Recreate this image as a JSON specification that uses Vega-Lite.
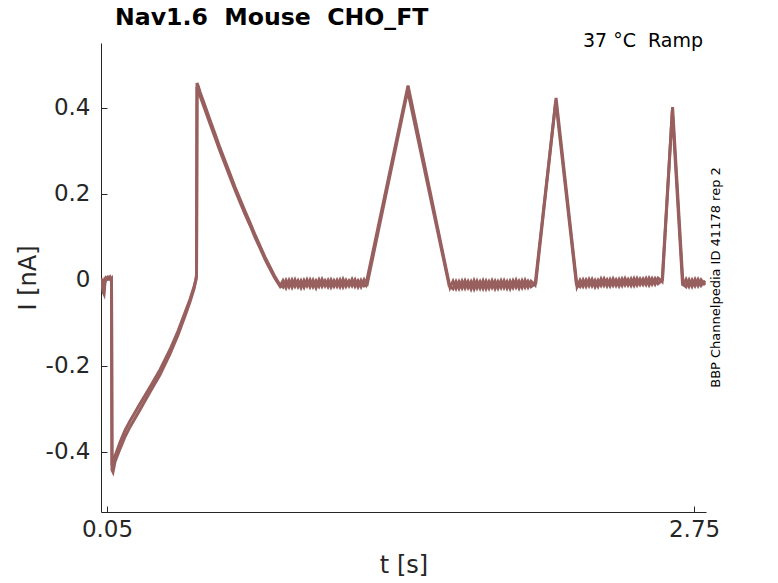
{
  "$schema": "https://vega.github.io/schema/vega-lite/v6.json",
  "width": 605,
  "height": 469,
  "autosize": {"type": "none"},
  "padding": {"left": 101, "top": 43, "right": 72, "bottom": 71},
  "background": "white",
  "title": {
    "text": "Nav1.6\u00a0 Mouse\u00a0 CHO_FT",
    "anchor": "start",
    "frame": "group",
    "baseline": "alphabetic",
    "dx": 14,
    "dy": 33,
    "offset": 16,
    "font": "DejaVu Sans",
    "fontSize": 23.6,
    "fontWeight": "bold",
    "color": "black"
  },
  "config": {
    "view": {"stroke": null},
    "axis": {
      "grid": false,
      "labelFont": "DejaVu Sans",
      "titleFont": "DejaVu Sans",
      "titleFontWeight": "normal",
      "labelColor": "#262626",
      "titleColor": "#262626",
      "domainColor": "#262626",
      "tickColor": "#262626"
    }
  },
  "datasets": {
    "trace": [
      {"t": 0.0224, "I": 0.002, "rep": "a"},
      {"t": 0.0270, "I": -0.002, "rep": "a"},
      {"t": 0.0316, "I": -0.028, "rep": "a"},
      {"t": 0.0362, "I": -0.033, "rep": "a"},
      {"t": 0.0408, "I": -0.005, "rep": "a"},
      {"t": 0.0454, "I": 0.005, "rep": "a"},
      {"t": 0.0546, "I": 0.002, "rep": "a"},
      {"t": 0.0638, "I": 0.007, "rep": "a"},
      {"t": 0.0707, "I": 0.000, "rep": "a"},
      {"t": 0.0730, "I": -0.442, "rep": "a"},
      {"t": 0.0776, "I": -0.447, "rep": "a"},
      {"t": 0.0868, "I": -0.423, "rep": "a"},
      {"t": 0.1098, "I": -0.393, "rep": "a"},
      {"t": 0.1328, "I": -0.365, "rep": "a"},
      {"t": 0.1558, "I": -0.342, "rep": "a"},
      {"t": 0.2018, "I": -0.302, "rep": "a"},
      {"t": 0.2478, "I": -0.261, "rep": "a"},
      {"t": 0.2938, "I": -0.221, "rep": "a"},
      {"t": 0.3398, "I": -0.172, "rep": "a"},
      {"t": 0.3766, "I": -0.128, "rep": "a"},
      {"t": 0.4088, "I": -0.084, "rep": "a"},
      {"t": 0.4318, "I": -0.051, "rep": "a"},
      {"t": 0.4502, "I": -0.021, "rep": "a"},
      {"t": 0.4594, "I": 0.000, "rep": "a"},
      {"t": 0.4617, "I": 0.009, "rep": "a"},
      {"t": 0.4640, "I": 0.458, "rep": "a"},
      {"t": 0.4700, "I": 0.450, "rep": "a"},
      {"t": 0.4778, "I": 0.437, "rep": "a"},
      {"t": 0.5008, "I": 0.405, "rep": "a"},
      {"t": 0.5238, "I": 0.372, "rep": "a"},
      {"t": 0.5468, "I": 0.340, "rep": "a"},
      {"t": 0.5698, "I": 0.307, "rep": "a"},
      {"t": 0.5928, "I": 0.277, "rep": "a"},
      {"t": 0.6158, "I": 0.247, "rep": "a"},
      {"t": 0.6388, "I": 0.216, "rep": "a"},
      {"t": 0.6618, "I": 0.188, "rep": "a"},
      {"t": 0.6848, "I": 0.160, "rep": "a"},
      {"t": 0.7078, "I": 0.133, "rep": "a"},
      {"t": 0.7308, "I": 0.105, "rep": "a"},
      {"t": 0.7538, "I": 0.079, "rep": "a"},
      {"t": 0.7768, "I": 0.053, "rep": "a"},
      {"t": 0.7998, "I": 0.030, "rep": "a"},
      {"t": 0.8228, "I": 0.007, "rep": "a"},
      {"t": 0.8458, "I": -0.012, "rep": "a"},
      {"t": 0.8596, "I": -0.017, "rep": "a"},
      {"t": 0.8734, "I": -0.001, "rep": "a"},
      {"t": 0.8872, "I": -0.016, "rep": "a"},
      {"t": 0.9010, "I": 0.000, "rep": "a"},
      {"t": 0.9148, "I": -0.015, "rep": "a"},
      {"t": 0.9286, "I": -0.002, "rep": "a"},
      {"t": 0.9424, "I": -0.018, "rep": "a"},
      {"t": 0.9562, "I": -0.001, "rep": "a"},
      {"t": 0.9700, "I": -0.014, "rep": "a"},
      {"t": 0.9838, "I": 0.000, "rep": "a"},
      {"t": 0.9976, "I": -0.016, "rep": "a"},
      {"t": 1.0114, "I": -0.002, "rep": "a"},
      {"t": 1.0252, "I": -0.015, "rep": "a"},
      {"t": 1.0390, "I": 0.001, "rep": "a"},
      {"t": 1.0528, "I": -0.014, "rep": "a"},
      {"t": 1.0666, "I": -0.001, "rep": "a"},
      {"t": 1.0804, "I": -0.017, "rep": "a"},
      {"t": 1.0942, "I": -0.002, "rep": "a"},
      {"t": 1.1080, "I": -0.015, "rep": "a"},
      {"t": 1.1218, "I": 0.000, "rep": "a"},
      {"t": 1.1356, "I": -0.016, "rep": "a"},
      {"t": 1.1494, "I": -0.001, "rep": "a"},
      {"t": 1.1632, "I": -0.014, "rep": "a"},
      {"t": 1.1770, "I": 0.001, "rep": "a"},
      {"t": 1.1908, "I": -0.015, "rep": "a"},
      {"t": 1.2046, "I": -0.002, "rep": "a"},
      {"t": 1.2184, "I": -0.016, "rep": "a"},
      {"t": 1.2322, "I": 0.000, "rep": "a"},
      {"t": 1.2414, "I": -0.010, "rep": "a"},
      {"t": 1.4346, "I": 0.452, "rep": "a"},
      {"t": 1.6278, "I": -0.018, "rep": "a"},
      {"t": 1.6416, "I": -0.003, "rep": "a"},
      {"t": 1.6554, "I": -0.020, "rep": "a"},
      {"t": 1.6692, "I": -0.004, "rep": "a"},
      {"t": 1.6830, "I": -0.019, "rep": "a"},
      {"t": 1.6968, "I": -0.002, "rep": "a"},
      {"t": 1.7106, "I": -0.018, "rep": "a"},
      {"t": 1.7244, "I": -0.004, "rep": "a"},
      {"t": 1.7382, "I": -0.021, "rep": "a"},
      {"t": 1.7520, "I": -0.003, "rep": "a"},
      {"t": 1.7658, "I": -0.019, "rep": "a"},
      {"t": 1.7796, "I": -0.002, "rep": "a"},
      {"t": 1.7934, "I": -0.020, "rep": "a"},
      {"t": 1.8072, "I": -0.004, "rep": "a"},
      {"t": 1.8210, "I": -0.018, "rep": "a"},
      {"t": 1.8348, "I": -0.003, "rep": "a"},
      {"t": 1.8486, "I": -0.019, "rep": "a"},
      {"t": 1.8624, "I": -0.002, "rep": "a"},
      {"t": 1.8762, "I": -0.018, "rep": "a"},
      {"t": 1.8900, "I": -0.004, "rep": "a"},
      {"t": 1.9038, "I": -0.020, "rep": "a"},
      {"t": 1.9176, "I": -0.002, "rep": "a"},
      {"t": 1.9314, "I": -0.017, "rep": "a"},
      {"t": 1.9452, "I": -0.003, "rep": "a"},
      {"t": 1.9590, "I": -0.018, "rep": "a"},
      {"t": 1.9728, "I": -0.001, "rep": "a"},
      {"t": 1.9866, "I": -0.017, "rep": "a"},
      {"t": 2.0004, "I": -0.003, "rep": "a"},
      {"t": 2.0188, "I": -0.012, "rep": "a"},
      {"t": 2.1154, "I": 0.423, "rep": "a"},
      {"t": 2.2120, "I": -0.016, "rep": "a"},
      {"t": 2.2258, "I": -0.001, "rep": "a"},
      {"t": 2.2396, "I": -0.015, "rep": "a"},
      {"t": 2.2534, "I": 0.000, "rep": "a"},
      {"t": 2.2672, "I": -0.014, "rep": "a"},
      {"t": 2.2810, "I": 0.001, "rep": "a"},
      {"t": 2.2948, "I": -0.016, "rep": "a"},
      {"t": 2.3086, "I": -0.001, "rep": "a"},
      {"t": 2.3224, "I": -0.013, "rep": "a"},
      {"t": 2.3362, "I": 0.002, "rep": "a"},
      {"t": 2.3500, "I": -0.014, "rep": "a"},
      {"t": 2.3638, "I": 0.001, "rep": "a"},
      {"t": 2.3776, "I": -0.013, "rep": "a"},
      {"t": 2.3914, "I": 0.000, "rep": "a"},
      {"t": 2.4052, "I": -0.014, "rep": "a"},
      {"t": 2.4190, "I": 0.002, "rep": "a"},
      {"t": 2.4328, "I": -0.012, "rep": "a"},
      {"t": 2.4466, "I": 0.001, "rep": "a"},
      {"t": 2.4604, "I": -0.013, "rep": "a"},
      {"t": 2.4742, "I": 0.003, "rep": "a"},
      {"t": 2.4880, "I": -0.012, "rep": "a"},
      {"t": 2.5018, "I": 0.002, "rep": "a"},
      {"t": 2.5156, "I": -0.011, "rep": "a"},
      {"t": 2.5294, "I": 0.003, "rep": "a"},
      {"t": 2.5432, "I": -0.012, "rep": "a"},
      {"t": 2.5570, "I": 0.003, "rep": "a"},
      {"t": 2.5708, "I": -0.010, "rep": "a"},
      {"t": 2.5846, "I": 0.004, "rep": "a"},
      {"t": 2.6030, "I": -0.004, "rep": "a"},
      {"t": 2.6513, "I": 0.402, "rep": "a"},
      {"t": 2.6996, "I": -0.014, "rep": "a"},
      {"t": 2.7134, "I": 0.001, "rep": "a"},
      {"t": 2.7272, "I": -0.015, "rep": "a"},
      {"t": 2.7410, "I": 0.000, "rep": "a"},
      {"t": 2.7548, "I": -0.014, "rep": "a"},
      {"t": 2.7686, "I": 0.001, "rep": "a"},
      {"t": 2.7824, "I": -0.013, "rep": "a"},
      {"t": 2.8008, "I": -0.002, "rep": "a"},

      {"t": 0.0224, "I": -0.004, "rep": "b"},
      {"t": 0.0270, "I": 0.003, "rep": "b"},
      {"t": 0.0316, "I": -0.020, "rep": "b"},
      {"t": 0.0362, "I": -0.024, "rep": "b"},
      {"t": 0.0408, "I": 0.001, "rep": "b"},
      {"t": 0.0454, "I": -0.001, "rep": "b"},
      {"t": 0.0546, "I": 0.006, "rep": "b"},
      {"t": 0.0638, "I": 0.001, "rep": "b"},
      {"t": 0.0707, "I": 0.004, "rep": "b"},
      {"t": 0.0730, "I": -0.430, "rep": "b"},
      {"t": 0.0776, "I": -0.436, "rep": "b"},
      {"t": 0.0868, "I": -0.410, "rep": "b"},
      {"t": 0.1098, "I": -0.378, "rep": "b"},
      {"t": 0.1328, "I": -0.350, "rep": "b"},
      {"t": 0.1558, "I": -0.328, "rep": "b"},
      {"t": 0.2018, "I": -0.288, "rep": "b"},
      {"t": 0.2478, "I": -0.249, "rep": "b"},
      {"t": 0.2938, "I": -0.209, "rep": "b"},
      {"t": 0.3398, "I": -0.162, "rep": "b"},
      {"t": 0.3766, "I": -0.119, "rep": "b"},
      {"t": 0.4088, "I": -0.076, "rep": "b"},
      {"t": 0.4318, "I": -0.045, "rep": "b"},
      {"t": 0.4502, "I": -0.016, "rep": "b"},
      {"t": 0.4594, "I": 0.003, "rep": "b"},
      {"t": 0.4617, "I": 0.012, "rep": "b"},
      {"t": 0.4640, "I": 0.446, "rep": "b"},
      {"t": 0.4700, "I": 0.447, "rep": "b"},
      {"t": 0.4778, "I": 0.428, "rep": "b"},
      {"t": 0.5008, "I": 0.396, "rep": "b"},
      {"t": 0.5238, "I": 0.363, "rep": "b"},
      {"t": 0.5468, "I": 0.331, "rep": "b"},
      {"t": 0.5698, "I": 0.299, "rep": "b"},
      {"t": 0.5928, "I": 0.269, "rep": "b"},
      {"t": 0.6158, "I": 0.239, "rep": "b"},
      {"t": 0.6388, "I": 0.209, "rep": "b"},
      {"t": 0.6618, "I": 0.181, "rep": "b"},
      {"t": 0.6848, "I": 0.153, "rep": "b"},
      {"t": 0.7078, "I": 0.127, "rep": "b"},
      {"t": 0.7308, "I": 0.099, "rep": "b"},
      {"t": 0.7538, "I": 0.074, "rep": "b"},
      {"t": 0.7768, "I": 0.048, "rep": "b"},
      {"t": 0.7998, "I": 0.025, "rep": "b"},
      {"t": 0.8228, "I": 0.003, "rep": "b"},
      {"t": 0.8458, "I": -0.015, "rep": "b"},
      {"t": 0.8596, "I": -0.002, "rep": "b"},
      {"t": 0.8734, "I": -0.018, "rep": "b"},
      {"t": 0.8872, "I": -0.001, "rep": "b"},
      {"t": 0.9010, "I": -0.017, "rep": "b"},
      {"t": 0.9148, "I": 0.000, "rep": "b"},
      {"t": 0.9286, "I": -0.016, "rep": "b"},
      {"t": 0.9424, "I": -0.002, "rep": "b"},
      {"t": 0.9562, "I": -0.017, "rep": "b"},
      {"t": 0.9700, "I": 0.000, "rep": "b"},
      {"t": 0.9838, "I": -0.016, "rep": "b"},
      {"t": 0.9976, "I": -0.001, "rep": "b"},
      {"t": 1.0114, "I": -0.018, "rep": "b"},
      {"t": 1.0252, "I": 0.000, "rep": "b"},
      {"t": 1.0390, "I": -0.015, "rep": "b"},
      {"t": 1.0528, "I": -0.002, "rep": "b"},
      {"t": 1.0666, "I": -0.016, "rep": "b"},
      {"t": 1.0804, "I": 0.000, "rep": "b"},
      {"t": 1.0942, "I": -0.015, "rep": "b"},
      {"t": 1.1080, "I": -0.001, "rep": "b"},
      {"t": 1.1218, "I": -0.016, "rep": "b"},
      {"t": 1.1356, "I": 0.001, "rep": "b"},
      {"t": 1.1494, "I": -0.015, "rep": "b"},
      {"t": 1.1632, "I": -0.002, "rep": "b"},
      {"t": 1.1770, "I": -0.014, "rep": "b"},
      {"t": 1.1908, "I": 0.000, "rep": "b"},
      {"t": 1.2046, "I": -0.016, "rep": "b"},
      {"t": 1.2184, "I": -0.001, "rep": "b"},
      {"t": 1.2322, "I": -0.014, "rep": "b"},
      {"t": 1.2460, "I": -0.012, "rep": "b"},
      {"t": 1.4330, "I": 0.440, "rep": "b"},
      {"t": 1.6240, "I": -0.014, "rep": "b"},
      {"t": 1.6416, "I": -0.021, "rep": "b"},
      {"t": 1.6554, "I": -0.004, "rep": "b"},
      {"t": 1.6692, "I": -0.020, "rep": "b"},
      {"t": 1.6830, "I": -0.003, "rep": "b"},
      {"t": 1.6968, "I": -0.019, "rep": "b"},
      {"t": 1.7106, "I": -0.004, "rep": "b"},
      {"t": 1.7244, "I": -0.021, "rep": "b"},
      {"t": 1.7382, "I": -0.002, "rep": "b"},
      {"t": 1.7520, "I": -0.019, "rep": "b"},
      {"t": 1.7658, "I": -0.004, "rep": "b"},
      {"t": 1.7796, "I": -0.020, "rep": "b"},
      {"t": 1.7934, "I": -0.003, "rep": "b"},
      {"t": 1.8072, "I": -0.019, "rep": "b"},
      {"t": 1.8210, "I": -0.002, "rep": "b"},
      {"t": 1.8348, "I": -0.020, "rep": "b"},
      {"t": 1.8486, "I": -0.004, "rep": "b"},
      {"t": 1.8624, "I": -0.018, "rep": "b"},
      {"t": 1.8762, "I": -0.002, "rep": "b"},
      {"t": 1.8900, "I": -0.019, "rep": "b"},
      {"t": 1.9038, "I": -0.003, "rep": "b"},
      {"t": 1.9176, "I": -0.018, "rep": "b"},
      {"t": 1.9314, "I": -0.001, "rep": "b"},
      {"t": 1.9452, "I": -0.019, "rep": "b"},
      {"t": 1.9590, "I": -0.002, "rep": "b"},
      {"t": 1.9728, "I": -0.017, "rep": "b"},
      {"t": 1.9866, "I": -0.003, "rep": "b"},
      {"t": 2.0004, "I": -0.016, "rep": "b"},
      {"t": 2.0220, "I": -0.008, "rep": "b"},
      {"t": 2.1140, "I": 0.416, "rep": "b"},
      {"t": 2.2090, "I": -0.011, "rep": "b"},
      {"t": 2.2258, "I": -0.016, "rep": "b"},
      {"t": 2.2396, "I": 0.000, "rep": "b"},
      {"t": 2.2534, "I": -0.015, "rep": "b"},
      {"t": 2.2672, "I": 0.001, "rep": "b"},
      {"t": 2.2810, "I": -0.014, "rep": "b"},
      {"t": 2.2948, "I": -0.001, "rep": "b"},
      {"t": 2.3086, "I": -0.015, "rep": "b"},
      {"t": 2.3224, "I": 0.002, "rep": "b"},
      {"t": 2.3362, "I": -0.013, "rep": "b"},
      {"t": 2.3500, "I": 0.000, "rep": "b"},
      {"t": 2.3638, "I": -0.014, "rep": "b"},
      {"t": 2.3776, "I": 0.002, "rep": "b"},
      {"t": 2.3914, "I": -0.013, "rep": "b"},
      {"t": 2.4052, "I": 0.001, "rep": "b"},
      {"t": 2.4190, "I": -0.013, "rep": "b"},
      {"t": 2.4328, "I": 0.003, "rep": "b"},
      {"t": 2.4466, "I": -0.012, "rep": "b"},
      {"t": 2.4604, "I": 0.002, "rep": "b"},
      {"t": 2.4742, "I": -0.013, "rep": "b"},
      {"t": 2.4880, "I": 0.003, "rep": "b"},
      {"t": 2.5018, "I": -0.011, "rep": "b"},
      {"t": 2.5156, "I": 0.002, "rep": "b"},
      {"t": 2.5294, "I": -0.011, "rep": "b"},
      {"t": 2.5432, "I": 0.004, "rep": "b"},
      {"t": 2.5570, "I": -0.010, "rep": "b"},
      {"t": 2.5708, "I": 0.003, "rep": "b"},
      {"t": 2.5846, "I": -0.009, "rep": "b"},
      {"t": 2.6050, "I": 0.000, "rep": "b"},
      {"t": 2.6500, "I": 0.394, "rep": "b"},
      {"t": 2.6970, "I": -0.009, "rep": "b"},
      {"t": 2.7134, "I": -0.016, "rep": "b"},
      {"t": 2.7272, "I": 0.000, "rep": "b"},
      {"t": 2.7410, "I": -0.015, "rep": "b"},
      {"t": 2.7548, "I": 0.001, "rep": "b"},
      {"t": 2.7686, "I": -0.014, "rep": "b"},
      {"t": 2.7824, "I": 0.000, "rep": "b"},
      {"t": 2.8008, "I": -0.012, "rep": "b"}
    ],
    "notes": [
      {"label": "37 \u00b0C\u00a0 Ramp", "t": 2.7915, "I": 0.542, "angle": 0},
      {"label": "BBP Channelpedia ID 41178 rep 2", "t": 2.853, "I": 0.0055, "angle": 270}
    ]
  },
  "layer": [
    {
      "data": {"name": "trace"},
      "mark": {"type": "line", "color": "#985f5f", "strokeWidth": 3, "clip": true},
      "encoding": {
        "x": {
          "field": "t",
          "type": "quantitative",
          "scale": {"domain": [0.0224, 2.805], "nice": false, "zero": false},
          "axis": {
            "title": "t [s]",
            "values": [0.05, 2.75],
            "labelExpr": "'' + datum.value",
            "labelFontSize": 23,
            "labelPadding": 12,
            "labelFlush": false,
            "tickSize": -6,
            "titleFontSize": 24,
            "titlePadding": 12
          }
        },
        "y": {
          "field": "I",
          "type": "quantitative",
          "scale": {"domain": [-0.54, 0.551], "nice": false, "zero": false},
          "axis": {
            "title": "I [nA]",
            "values": [-0.4, -0.2, 0, 0.2, 0.4],
            "labelExpr": "'' + datum.value",
            "labelFontSize": 23,
            "labelPadding": 17,
            "tickSize": -6,
            "titleFontSize": 24,
            "titlePadding": 5
          }
        },
        "detail": {"field": "rep", "type": "nominal"}
      }
    },
    {
      "data": {"name": "notes"},
      "transform": [{"filter": "datum.angle == 0"}],
      "mark": {"type": "text", "align": "right", "baseline": "alphabetic", "font": "DejaVu Sans", "fontSize": 19, "color": "black", "clip": false},
      "encoding": {
        "text": {"field": "label", "type": "nominal"},
        "x": {"field": "t", "type": "quantitative"},
        "y": {"field": "I", "type": "quantitative"}
      }
    },
    {
      "data": {"name": "notes"},
      "transform": [{"filter": "datum.angle == 270"}],
      "mark": {"type": "text", "align": "center", "baseline": "middle", "angle": 270, "font": "DejaVu Sans", "fontSize": 13, "color": "black", "clip": false},
      "encoding": {
        "text": {"field": "label", "type": "nominal"},
        "x": {"field": "t", "type": "quantitative"},
        "y": {"field": "I", "type": "quantitative"}
      }
    }
  ]
}
